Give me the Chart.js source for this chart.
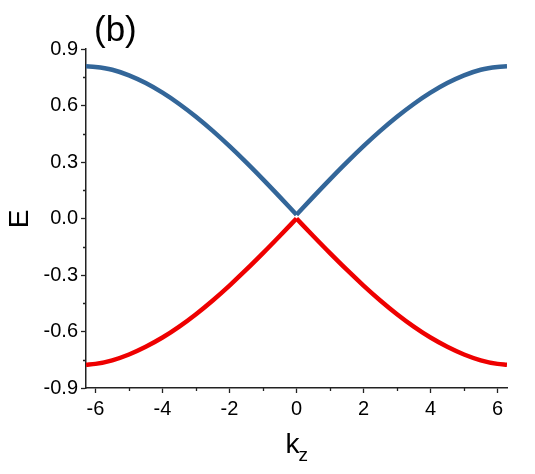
<!DOCTYPE html>
<html>
<head>
<meta charset="utf-8">
<script src="https://cdn.jsdelivr.net/npm/chart.js@4.4.0/dist/chart.umd.min.js"></script>
<style>
  html, body { margin: 0; padding: 0; background: #fff; }
  #wrap { width: 535px; height: 474px; position: relative; }
</style>
</head>
<body>
<div id="wrap"><canvas id="chart"></canvas></div>
<script>
// k_z values; bands have a sharp crossing at k_z = 0
const kz = [-6.283, -6, -5.5, -5, -4.5, -4, -3.5, -3, -2.5, -2, -1.5, -1, -0.5, 0,
            0.5, 1, 1.5, 2, 2.5, 3, 3.5, 4, 4.5, 5, 5.5, 6, 6.283];
const upperBand = [0.808, 0.805, 0.79, 0.76, 0.719, 0.668, 0.608, 0.54, 0.465, 0.384, 0.298, 0.208, 0.115, 0.02,
                   0.115, 0.208, 0.298, 0.384, 0.465, 0.54, 0.608, 0.668, 0.719, 0.76, 0.79, 0.805, 0.808];
const lowerBand = [-0.777, -0.772, -0.753, -0.722, -0.681, -0.632, -0.574, -0.508, -0.435, -0.356, -0.272, -0.184, -0.093, 0.0,
                   -0.093, -0.184, -0.272, -0.356, -0.435, -0.508, -0.574, -0.632, -0.681, -0.722, -0.753, -0.772, -0.777];
const xTicks = [-6, -4, -2, 0, 2, 4, 6];
const xMinor = [-5, -3, -1, 1, 3, 5];
const yTicks = [-0.9, -0.6, -0.3, 0.0, 0.3, 0.6, 0.9];
const yMinor = [-0.75, -0.45, -0.15, 0.15, 0.45, 0.75];

const FONT = '"Liberation Sans", Arial, sans-serif';
const BLUE = '#336699';
const RED = '#ee0000';

// split at k=0 so the cusp stays sharp
const half = (ys, side) => kz
  .map((k, i) => ({ x: k, y: ys[i] }))
  .filter(p => side < 0 ? p.x <= 0 : p.x >= 0);

const band = (ys, side, color) => ({
  data: half(ys, side),
  borderColor: color,
  borderWidth: 4.5,
  pointRadius: 0,
  cubicInterpolationMode: 'monotone',
  fill: false
});

// minor tick marks + axis labels
const extras = {
  id: 'extras',
  afterDraw(chart) {
    const c = chart.ctx;
    const xs = chart.scales.x, ys = chart.scales.y;
    const area = chart.chartArea;
    c.save();
    c.strokeStyle = '#222';
    c.lineWidth = 1.3;
    c.beginPath();
    xMinor.forEach(v => {
      const px = Math.round(xs.getPixelForValue(v)) + 0.5;
      c.moveTo(px, area.bottom);
      c.lineTo(px, area.bottom + 3);
    });
    yMinor.forEach(v => {
      const py = Math.round(ys.getPixelForValue(v)) + 0.5;
      c.moveTo(area.left, py);
      c.lineTo(area.left - 3, py);
    });
    c.stroke();

    c.fillStyle = '#000';
    c.textBaseline = 'alphabetic';
    c.textAlign = 'left';
    c.font = '35px ' + FONT;
    c.fillText('(b)', 94, 41);

    c.font = '28px ' + FONT;
    c.save();
    c.translate(28, 219);
    c.rotate(-Math.PI / 2);
    c.textAlign = 'center';
    c.fillText('E', 0, 0);
    c.restore();

    const cx = xs.getPixelForValue(0);
    c.font = '28px ' + FONT;
    c.textAlign = 'left';
    c.fillText('k', cx - 11, 453);
    c.font = '19px ' + FONT;
    c.fillText('z', cx + 2, 461);
    c.restore();
  }
};

new Chart(document.getElementById('chart'), {
  type: 'line',
  data: {
    datasets: [
      band(upperBand, -1, BLUE),
      band(upperBand, 1, BLUE),
      band(lowerBand, -1, RED),
      band(lowerBand, 1, RED)
    ]
  },
  options: {
    responsive: true,
    maintainAspectRatio: false,
    animation: false,
    layout: { padding: { left: 0, top: 49, right: 28, bottom: 0 } },
    plugins: {
      legend: { display: false },
      tooltip: { enabled: false }
    },
    scales: {
      x: {
        type: 'linear',
        min: -6.283,
        max: 6.283,
        afterBuildTicks: s => { s.ticks = xTicks.map(v => ({ value: v })); },
        afterFit: s => { s.height = 86; },
        grid: { drawOnChartArea: false, tickLength: 5, tickColor: '#222', tickWidth: 1.3 },
        border: { display: true, color: '#222', width: 1.5 },
        ticks: {
          color: '#000',
          padding: 4,
          font: { family: FONT, size: 20 },
          callback: v => String(v)
        }
      },
      y: {
        type: 'linear',
        min: -0.9,
        max: 0.9,
        afterBuildTicks: s => { s.ticks = yTicks.map(v => ({ value: v })); },
        afterFit: s => { s.width = 86; },
        grid: { drawOnChartArea: false, tickLength: 5, tickColor: '#222', tickWidth: 1.3 },
        border: { display: true, color: '#222', width: 1.5 },
        ticks: {
          color: '#000',
          padding: 3,
          font: { family: FONT, size: 20 },
          callback: v => Number(v).toFixed(1)
        }
      }
    }
  },
  plugins: [extras]
});
</script>
</body>
</html>
